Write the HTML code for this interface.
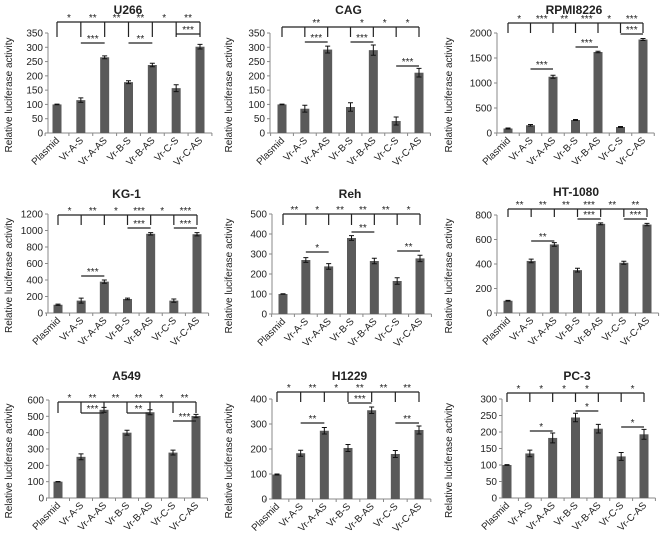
<!DOCTYPE html>
<html><head><meta charset="utf-8">
<style>
html,body{margin:0;padding:0;background:#fff;}
#wrap{position:relative;width:660px;height:540px;overflow:hidden;}
svg{position:absolute;left:0;top:0;}
text{font-family:"Liberation Sans",sans-serif;fill:#222;}
</style></head>
<body>
<div id="wrap">
<svg id="fig" width="660" height="540" viewBox="0 0 660 540"></svg>
</div>
<script>
const categories = ["Plasmid","Vr-A-S","Vr-A-AS","Vr-B-S","Vr-B-AS","Vr-C-S","Vr-C-AS"];
const titles = ["U266","CAG","RPMI8226","KG-1","Reh","HT-1080","A549","H1229","PC-3"];
const valuesU266 = [100,115,265,178,238,157,302];
const errU266 = [1,8,5,5,6,12,8];
const valuesCAG = [100,85,292,91,290,42,211];
const errCAG = [1,12,12,15,18,14,15];
const valuesRPMI = [90,155,1125,260,1620,120,1870];
const errRPMI = [10,15,30,10,15,10,20];
const valuesKG1 = [100,150,380,170,960,150,955];
const errKG1 = [8,30,20,10,15,20,20];
const valuesReh = [100,270,238,380,265,165,278];
const errReh = [1,12,14,12,14,16,16];
const valuesHT = [100,425,560,350,728,410,722];
const errHT = [3,15,15,15,8,12,10];
const valuesA549 = [100,252,540,400,525,278,502];
const errA549 = [1,18,15,15,15,15,10];
const valuesH1229 = [98,183,273,204,355,180,276];
const errH1229 = [2,12,13,14,13,14,16];
const valuesPC3 = [100,135,182,244,210,126,193];
const errPC3 = [1,10,15,13,13,12,15];
const yMax = [350,350,2000,1200,500,800,600,400,300];
const yStep = [50,50,500,200,100,200,100,100,50];
const topStars = [
 ["*","**","**","**","*","**"],
 ["","**","","*","*","*"],
 ["*","***","**","***","*","***"],
 ["*","**","*","***","*","***"],
 ["**","*","**","**","**","*"],
 ["**","**","**","***","**","**"],
 ["*","**","**","**","*","**"],
 ["*","**","*","**","**","**"],
 ["*","*","*","*","","*"]
];
const innerStars = [
 ["***","**","***"],["***","***","***"],["***","***","***"],
 ["***","***","***"],["*","**","**"],["**","***","***"],
 ["***","**","***"],["**","***","**"],["*","*","*"]
];
const allValues=[valuesU266,valuesCAG,valuesRPMI,valuesKG1,valuesReh,valuesHT,valuesA549,valuesH1229,valuesPC3];
const allErr=[errU266,errCAG,errRPMI,errKG1,errReh,errHT,errA549,errH1229,errPC3];
// layout (pixels, local panel coords)
const layout=[
 {ax:48,y0:133,yt:33,b0:57,b1:200,br:22,bd:37,ty:14,inner:[43,43,34]},
 {ax:50,y0:133,yt:33,b0:62,b1:199,br:27,bd:37,ty:14,inner:[42,42,66]},
 {ax:57,y0:133,yt:33,b0:68,b1:203,br:23,bd:33,ty:14,inner:[69,47,34]},
 {ax:48,y0:133,yt:34,b0:58,b1:197,br:35,bd:45,ty:18,inner:[96,48,48]},
 {ax:52,y0:134,yt:34,b0:63,b1:200,br:34,bd:45,ty:18,inner:[72,52,71]},
 {ax:57,y0:133,yt:35,b0:68,b1:207,br:29,bd:37,ty:16,inner:[61,39,39]},
 {ax:49,y0:138,yt:40,b0:58,b1:196,br:42,bd:53,ty:20,inner:[53,53,61]},
 {ax:52,y0:139,yt:39,b0:57,b1:199,br:32,bd:42,ty:20,inner:[63,43,63]},
 {ax:62,y0:138,yt:39,b0:67,b1:204,br:33,bd:42,ty:20,inner:[71,51,67]}
];
const NS="http://www.w3.org/2000/svg";
const fig=document.getElementById('fig');
function mk(tag,attrs,parent){const e=document.createElementNS(NS,tag);for(const k in attrs)e.setAttribute(k,attrs[k]);parent.appendChild(e);return e;}
for(let p=0;p<9;p++){
  const L=layout[p], ox=(p%3)*220, oy=Math.floor(p/3)*180;
  const g=mk('g',{transform:`translate(${ox},${oy})`},fig);
  
  
  const y=v=>L.y0-(v/yMax[p])*(L.y0-L.yt);
  const x=i=>L.b0+i*(L.b1-L.b0)/6;
  const sp=(L.b1-L.b0)/6;
  const t=mk('text',{x:(L.ax+L.b1+8)/2,y:L.ty,'text-anchor':'middle','font-size':'12','font-weight':'bold'},g);
  t.textContent=titles[p];
  
  
  const yl=mk('text',{transform:`translate(12,${(L.y0+L.yt)/2+12}) rotate(-90)`,'text-anchor':'middle','font-size':'10'},g);
  yl.textContent='Relative  luciferase activity';
  
  
  const ya=mk('line',{x1:L.ax,y1:L.yt,x2:L.ax,y2:L.y0,stroke:'#888','stroke-width':1},g);
  
  
  const xa=mk('line',{x1:L.ax,y1:L.y0,x2:L.b1+sp/2,y2:L.y0,stroke:'#888','stroke-width':1},g);
  
  
  for(let v=0;v<=yMax[p];v+=yStep[p]){
    mk('line',{x1:L.ax-3,y1:y(v),x2:L.ax,y2:y(v),stroke:'#888'},g);
    const tl=mk('text',{x:L.ax-5,y:y(v)+3.5,'text-anchor':'end','font-size':'10'},g);
    tl.textContent=v;
    
    
  }
  for(let i=0;i<=7;i++){const tx=L.b0+(i-0.5)*sp;mk('line',{x1:tx,y1:L.y0,x2:tx,y2:L.y0+3,stroke:'#888'},g);}
  const vals=allValues[p], errs=allErr[p];
  for(let i=0;i<7;i++){
    const cx=x(i);
    const r=mk('rect',{x:cx-4.5,y:y(vals[i]),width:9,height:L.y0-y(vals[i]),fill:'#5a5a5a'},g);
    
    
    const eh=y(vals[i]+errs[i]), el=y(vals[i]-errs[i]);
    mk('path',{d:`M${cx},${eh}V${el}M${cx-2.5},${eh}H${cx+2.5}M${cx-2.5},${el}H${cx+2.5}`,stroke:'#111','stroke-width':1,fill:'none'},g);
    const xl=mk('text',{transform:`translate(${cx+3},${L.y0+8}) rotate(-45)`,'text-anchor':'end','font-size':'9.8'},g);
    xl.textContent=categories[i];
    
    
  }
  let d=`M${x(0)},${L.br}H${x(6)}`;
  for(let i=0;i<7;i++)d+=`M${x(i)},${L.br}V${L.bd}`;
  const br=mk('path',{d:d,stroke:'#222','stroke-width':1.2,fill:'none'},g);
  
  
  for(let i=0;i<6;i++){
    if(!topStars[p][i])continue;
    const s=mk('text',{x:(x(i)+x(i+1))/2,y:L.br-1,'text-anchor':'middle','font-size':'10'},g);
    s.textContent=topStars[p][i];
    
    
  }
  for(let k=0;k<3;k++){
    const a=x(1+2*k), b=x(2+2*k), iy=L.inner[k];
    const ln=mk('line',{x1:a,y1:iy,x2:b,y2:iy,stroke:'#222','stroke-width':1.2},g);
    
    
    const s=mk('text',{x:(a+b)/2,y:iy-1,'text-anchor':'middle','font-size':'10'},g);
    s.textContent=innerStars[p][k];
    
    
  }
}
</script>
</body></html>
